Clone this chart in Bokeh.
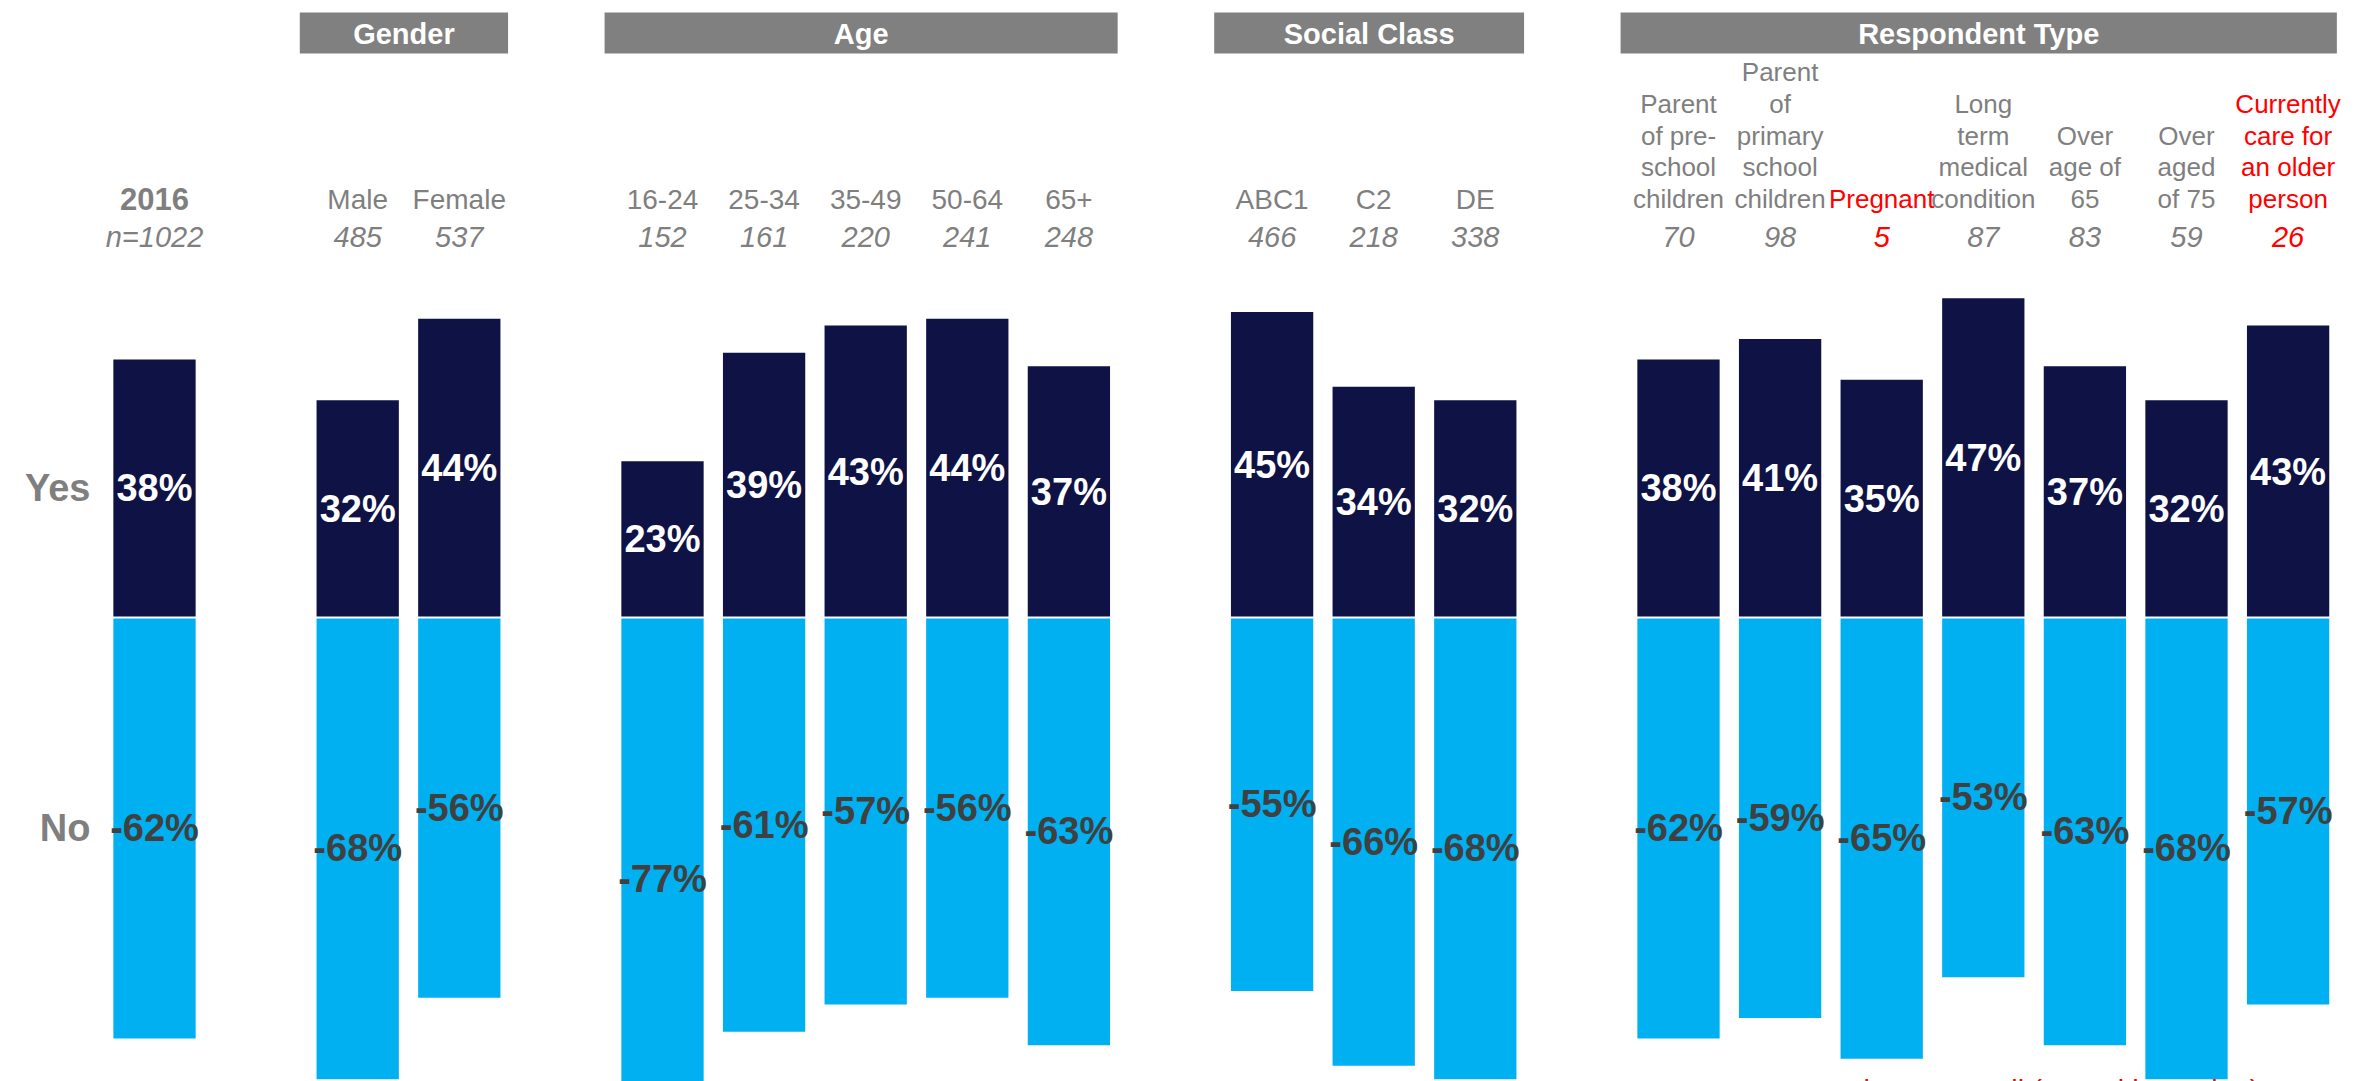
from bokeh.plotting import figure
from bokeh.models import ColumnDataSource, Span
from bokeh.core.properties import value
from bokeh.embed import file_html
from bokeh.resources import INLINE

# ---------------- data ----------------
groups = ["Total", "Gender", "Age", "Social Class", "Respondent Type"]
group_of = ["Total", "Gender", "Gender", "Age", "Age", "Age", "Age", "Age",
            "Social Class", "Social Class", "Social Class",
            "Respondent Type", "Respondent Type", "Respondent Type", "Respondent Type",
            "Respondent Type", "Respondent Type", "Respondent Type"]
categories = ["2016", "Male", "Female", "16-24", "25-34", "35-49", "50-64", "65+",
              "ABC1", "C2", "DE",
              "Parent\nof pre-\nschool\nchildren", "Parent\nof\nprimary\nschool\nchildren",
              "Pregnant", "Long\nterm\nmedical\ncondition", "Over\nage of\n65",
              "Over\naged\nof 75", "Currently\ncare for\nan older\nperson"]
base_n = [1022, 485, 537, 152, 161, 220, 241, 248, 466, 218, 338, 70, 98, 5, 87, 83, 59, 26]
yes_pct = [38, 32, 44, 23, 39, 43, 44, 37, 45, 34, 32, 38, 41, 35, 47, 37, 32, 43]
no_pct = [-62, -68, -56, -77, -61, -57, -56, -63, -55, -66, -68, -62, -59, -65, -53, -63, -68, -57]
series_labels = ["Yes", "No"]
footnote = "*Sample: Too small (use with caution)"

# ---------------- layout ----------------
W, H = 2357, 1081
PX_PER_PCT = 6.79
BASE_PAGE_Y = 617
UNIT = 101.6
SLOT0_PAGE_X = 154

def yd(page_y):
    return (BASE_PAGE_Y - page_y) / PX_PER_PCT

def xd(page_x):
    return (page_x - SLOT0_PAGE_X) / UNIT

x0 = xd(0)
x1 = x0 + W / UNIT
y1 = yd(0)
y0 = y1 - H / PX_PER_PCT

NAVY = "#0E1245"
CYAN = "#00B0F0"
GREY = "#7F7F7F"
DARK = "#404040"
RED = "#FF0000"
FONT = value("Liberation Sans")

xs = [i + groups.index(g) for i, g in enumerate(group_of)]

p = figure(width=W, height=H, x_range=(x0, x1), y_range=(y0, y1),
           output_backend="svg", toolbar_location=None,
           x_axis_location=None, y_axis_location=None,
           min_border=0, min_border_left=0, min_border_right=0,
           min_border_top=0, min_border_bottom=0)
p.outline_line_color = None
p.xgrid.visible = False
p.ygrid.visible = False
p.background_fill_color = "white"
p.border_fill_color = "white"

BAR_W = 0.81
p.vbar(x=xs, bottom=0, top=yes_pct, width=BAR_W, fill_color=NAVY, line_color=None)
p.vbar(x=xs, bottom=no_pct, top=0, width=BAR_W, fill_color=CYAN, line_color=None)
p.add_layout(Span(location=0, dimension="width", line_color="white", line_width=2))

# value labels
p.text(x=xs, y=[v / 2 for v in yes_pct], text=[f"{v}%" for v in yes_pct],
       text_font=FONT, text_font_size="38px", text_font_style="bold",
       text_color="white", text_align="center", text_baseline="middle")
p.text(x=xs, y=[v / 2 for v in no_pct], text=[f"{v}%" for v in no_pct],
       text_font=FONT, text_font_size="38px", text_font_style="bold",
       text_color=DARK, text_align="center", text_baseline="middle")

# Yes / No labels
p.text(x=[xd(90)] * 2, y=[yes_pct[0] / 2, no_pct[0] / 2], text=series_labels,
       text_font=FONT, text_font_size="38px", text_font_style="bold",
       text_color=GREY, text_align="right", text_baseline="middle")

# group header boxes
for g in groups[1:]:
    idx = [xs[i] for i, gg in enumerate(group_of) if gg == g]
    left, right = min(idx) - 0.57, max(idx) + 0.48
    p.quad(left=left, right=right, top=yd(12), bottom=yd(53), fill_color="#808080", line_color=None)
    p.text(x=[(left + right) / 2], y=[yd(33)], text=[g], text_font=FONT, text_font_size="29px",
           text_font_style="bold", text_color="white", text_align="center", text_baseline="middle")

# category labels (line by line)
LINE_GAP = 31.7
lx, ly, lt, lc, ls, lf = [], [], [], [], [], []
for i, c in enumerate(categories):
    lines = c.split("\n")
    n = len(lines)
    for k, line in enumerate(lines):
        lx.append(xs[i])
        ly.append(yd(198.5 - (n - 1 - k) * LINE_GAP))
        lt.append(line)
        lc.append(RED if base_n[i] < 30 else GREY)
        ls.append("bold" if i == 0 else "normal")
        lf.append("31px" if i == 0 else ("26px" if group_of[i] == "Respondent Type" else "28px"))
src = ColumnDataSource(dict(x=lx, y=ly, t=lt, c=lc, s=ls, f=lf))
p.text(x="x", y="y", text="t", text_color="c", text_font_style="s", text_font_size="f",
       source=src, text_font=FONT, text_align="center", text_baseline="middle")

# base sizes
bt = [("n=" if i == 0 else "") + str(b) for i, b in enumerate(base_n)]
bc = [RED if b < 30 else GREY for b in base_n]
p.text(x=xs, y=[yd(236)] * len(xs), text=bt, text_color=bc,
       text_font=FONT, text_font_size="29px", text_font_style="italic",
       text_align="center", text_baseline="middle")

# footnote (cut off at the bottom edge, as in the original)
p.text(x=[xd(1776)], y=[yd(1074)], text=[footnote], text_color=RED,
       text_font=FONT, text_font_size="29px", text_align="left", text_baseline="top")

open("out.html", "w").write(file_html(p, INLINE))
